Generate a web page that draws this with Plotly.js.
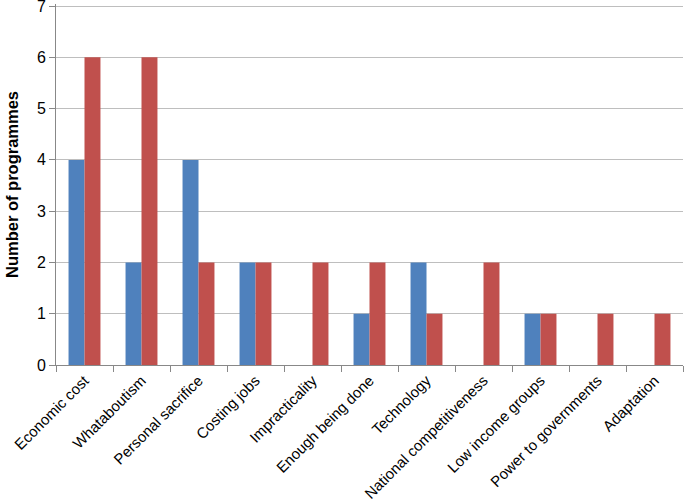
<!DOCTYPE html>
<html>
<head>
<meta charset="utf-8">
<script src="https://cdn.plot.ly/plotly-3.0.1.min.js"></script>
<style>
  html, body { margin: 0; padding: 0; background: #fff; }
  #graph { width: 685px; height: 501px; }
</style>
</head>
<body>
<div id="graph"></div>
<script>
// Catégories et valeurs
const categories = ['Economic cost', 'Whataboutism', 'Personal sacrifice', 'Costing jobs',
  'Impracticality', 'Enough being done', 'Technology', 'National competitiveness',
  'Low income groups', 'Power to governments', 'Adaptation'];
const blueValues = [4, 2, 4, 2, 0, 1, 2, 0, 1, 0, 0];
const redValues = [6, 6, 2, 2, 2, 2, 1, 2, 1, 1, 1];
const yTicks = [0, 1, 2, 3, 4, 5, 6, 7];

const fontFamily = '"Liberation Sans", Arial, sans-serif';

Plotly.newPlot('graph', [{
  type: 'bar',
  x: categories,
  y: blueValues,
  marker: { color: '#4F81BD' },
  hoverinfo: 'none'
}, {
  type: 'bar',
  x: categories,
  y: redValues,
  marker: { color: '#C0504D' },
  hoverinfo: 'none'
}], {
  width: 685,
  height: 501,
  margin: { l: 56, r: 2, t: 4, b: 136 },
  paper_bgcolor: '#fff',
  plot_bgcolor: '#fff',
  showlegend: false,
  barmode: 'group',
  bargap: 0.44,
  bargroupgap: 0,
  font: { family: fontFamily, size: 14, color: '#000' },
  xaxis: {
    type: 'category',
    tickangle: -45,
    tickson: 'boundaries',
    ticks: 'outside',
    ticklen: 6,
    tickcolor: '#888',
    showline: true,
    linecolor: '#888',
    linewidth: 1,
    showgrid: false,
    tickfont: { family: fontFamily, size: 15, color: '#000' }
  },
  yaxis: {
    range: [0, 7.04],
    tickvals: yTicks,
    ticks: 'outside',
    ticklen: 6,
    tickcolor: '#888',
    showline: true,
    linecolor: '#888',
    linewidth: 1,
    showgrid: true,
    gridcolor: '#BEBEBE',
    gridwidth: 1,
    zeroline: false,
    ticklabeloverflow: 'allow',
    tickfont: { family: fontFamily, size: 16, color: '#000' },
    title: {
      text: '<b>Number of programmes</b>',
      font: { family: fontFamily, size: 16.5, color: '#000' },
      standoff: 14
    }
  }
}, { displayModeBar: false, staticPlot: true });
</script>
</body>
</html>
